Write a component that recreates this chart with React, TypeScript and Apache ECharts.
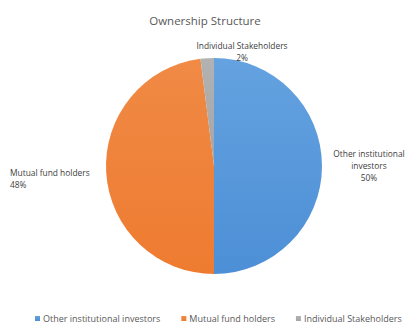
import React, { useEffect, useRef } from "react";
import * as echarts from "echarts";

const categories = ["Other institutional investors", "Mutual fund holders", "Individual Stakeholders"];
const values = [50, 48, 2];
const labelTexts = ["Other institutional\ninvestors\n50%", "Mutual fund holders\n48%", "Individual Stakeholders\n2%"];
const colors = ["#4d8fd6", "#ee7b30", "#a5a5a5"];
const lightColors = ["#64a2e0", "#f08a45", "#b2b2b2"];

export default function App() {
  const ref = useRef<HTMLDivElement>(null);
  useEffect(() => {
    if (!ref.current) return;
    const chart = echarts.init(ref.current, null, { renderer: "svg" });
    const labelPos = [
      { x: 369, y: 165, align: "center" },
      { x: 10, y: 178, align: "left" },
      { x: 242, y: 51, align: "center" },
    ];
    chart.setOption({
      animation: false,
      backgroundColor: "#ffffff",
      title: {
        text: "Ownership Structure",
        left: "center",
        top: 9,
        textStyle: { fontFamily: "Open Sans", fontSize: 11.5, fontWeight: "normal", color: "#595959" },
      },
      legend: {
        data: categories,
        top: 311,
        left: 30,
        padding: [2, 5, 2, 5],
        icon: "rect",
        itemWidth: 5,
        itemHeight: 5,
        itemGap: 21,
        textStyle: { fontFamily: "Open Sans", fontSize: 9, lineHeight: 11, color: "#595959", padding: [0, 0, 0, -2] },
      },
      series: [
        {
          type: "pie",
          center: [214, 166],
          radius: 108,
          startAngle: 90,
          clockwise: true,
          data: categories.map((name, i) => ({
            name,
            value: values[i],
            itemStyle: {
              color: new echarts.graphic.LinearGradient(0, 0, 0, 1, [
                { offset: 0, color: lightColors[i] },
                { offset: 1, color: colors[i] },
              ]),
            },
            label: { formatter: labelTexts[i] },
          })),
          label: {
            show: true,
            position: "outside",
            fontFamily: "Open Sans",
            fontSize: 8.4,
            lineHeight: 12,
            color: "#404040",
            align: "center",
            overflow: "none",
            width: 200,
          },
          labelLine: { show: false },
          labelLayout: (params: any) => {
            const p = labelPos[params.dataIndex];
            return { x: p.x, y: p.y, align: p.align, verticalAlign: "middle" };
          },
          emphasis: { disabled: true },
        },
      ],
    });
    return () => chart.dispose();
  }, []);
  return <div ref={ref} style={{ position: "fixed", left: 0, top: 0, width: 410, height: 329 }} />;
}
